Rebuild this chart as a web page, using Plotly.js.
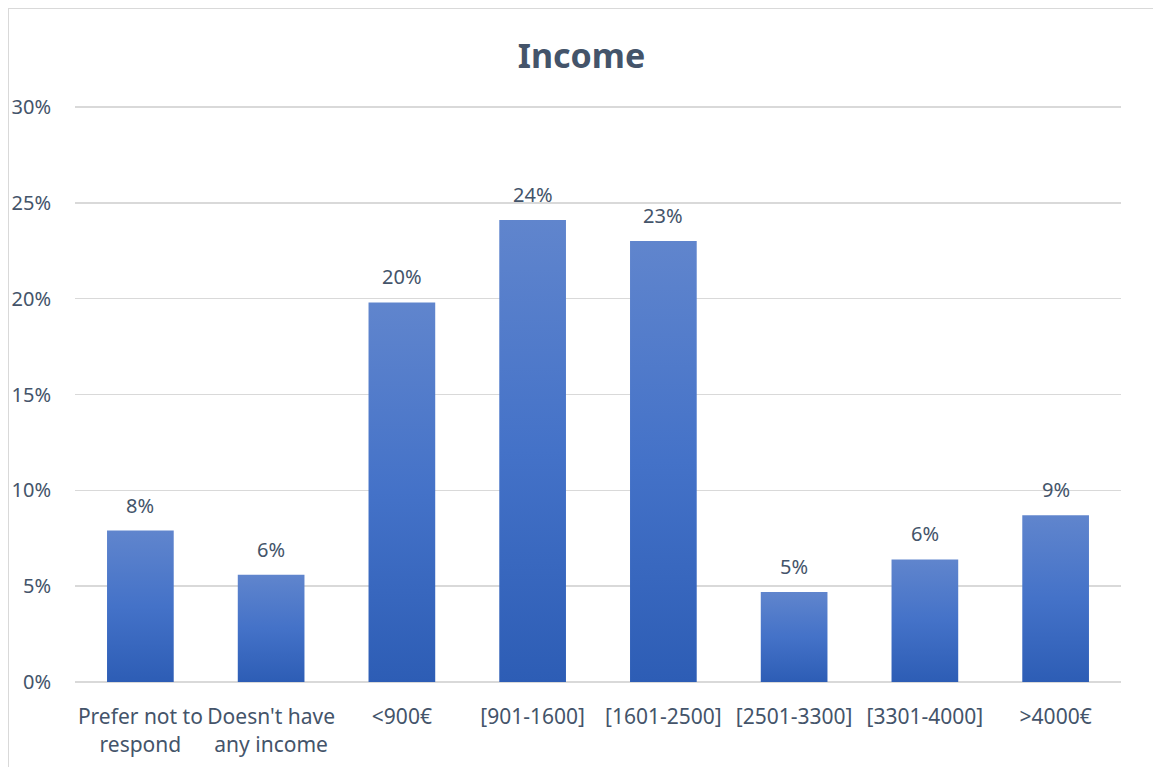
<!DOCTYPE html>
<html>
<head>
<meta charset="utf-8">
<script src="https://cdn.plot.ly/plotly-3.0.1.min.js"></script>
<style>
  html, body { margin: 0; padding: 0; background: #fff; overflow: hidden; }
  #frame { position: absolute; left: 8px; top: 8px; width: 1145px; height: 759px;
           border-left: 1px solid #d9d9d9; border-top: 1px solid #d9d9d9; }
  #chart { width: 1145px; height: 759px; }
</style>
</head>
<body>
<div id="frame"><div id="chart"></div></div>
<script>
const categories = ["Prefer not to<br>respond", "Doesn't have<br>any income", "<900€", "[901-1600]", "[1601-2500]", "[2501-3300]", "[3301-4000]", ">4000€"];
const values = [7.9, 5.6, 19.8, 24.1, 23.0, 4.7, 6.4, 8.7];
const yTickVals = [0, 5, 10, 15, 20, 25, 30];

const labelColor = '#44546A';
const fontFam = '"Noto Sans", "Open Sans", sans-serif';

const trace = {
  type: 'bar',
  x: categories,
  y: values,
  marker: { color: '#4472C4', line: { width: 0 } },
  hoverinfo: 'skip'
};

const annotations = categories.map((c, i) => ({
  x: c, y: values[i], xref: 'x', yref: 'y',
  text: Math.round(values[i]) + '%',
  showarrow: false, yanchor: 'bottom', yshift: 10,
  font: { family: fontFam, size: 20, color: labelColor }
}));

const layout = {
  width: 1145, height: 759,
  margin: { l: 66, r: 33, t: 96, b: 84 },
  paper_bgcolor: '#fff', plot_bgcolor: '#fff',
  showlegend: false,
  bargap: 0.49,
  annotations: annotations,
  title: { text: '<b>Income</b>', x: 0.5, xanchor: 'center', y: 1 - 47/759, yanchor: 'middle', yref: 'container',
           font: { family: fontFam, size: 34, color: labelColor } },
  xaxis: { type: 'category', tickfont: { family: fontFam, size: 21, color: labelColor },
           showgrid: false, zeroline: false, showline: false,
           ticks: 'outside', ticklen: 14, tickcolor: 'rgba(0,0,0,0)', automargin: false },
  yaxis: { range: [-0.1, 30.1], tickvals: yTickVals, ticktext: yTickVals.map(v => v + '%'),
           tickfont: { family: fontFam, size: 20, color: labelColor },
           showgrid: true, gridcolor: '#d9d9d9', gridwidth: 1.5, zeroline: false, showline: false,
           ticks: 'outside', ticklen: 19, tickcolor: 'rgba(0,0,0,0)', automargin: false }
};

Plotly.newPlot('chart', [trace], layout, { displayModeBar: false, staticPlot: true }).then(gd => {
  const svg = gd.querySelector('svg.main-svg');
  const NS = 'http://www.w3.org/2000/svg';
  let defs = svg.querySelector('defs');
  if (!defs) { defs = document.createElementNS(NS, 'defs'); svg.insertBefore(defs, svg.firstChild); }
  const grad = document.createElementNS(NS, 'linearGradient');
  grad.setAttribute('id', 'barGrad');
  grad.setAttribute('x1', '0'); grad.setAttribute('y1', '0');
  grad.setAttribute('x2', '0'); grad.setAttribute('y2', '1');
  [['0%', '#6085CD'], ['50%', '#4472C8'], ['100%', '#2D5DB5']].forEach(([o, c]) => {
    const s = document.createElementNS(NS, 'stop');
    s.setAttribute('offset', o); s.setAttribute('stop-color', c);
    grad.appendChild(s);
  });
  defs.appendChild(grad);
  gd.querySelectorAll('.bars .point path').forEach(p => { p.style.fill = 'url(#barGrad)'; });
});
</script>
</body>
</html>
